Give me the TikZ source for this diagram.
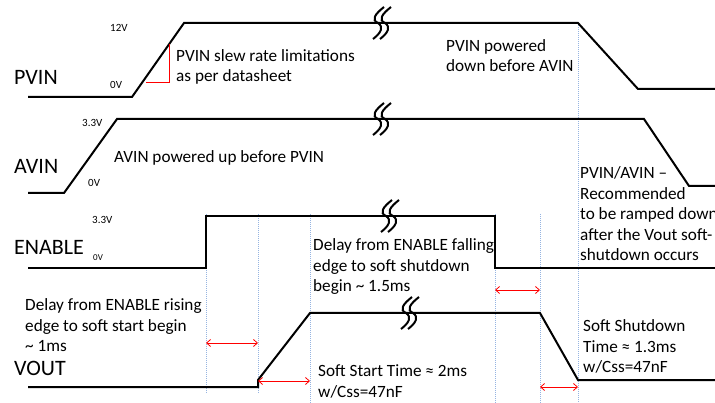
\documentclass[tikz,border=0pt]{standalone}
\usepackage{fontspec}
\setmainfont{Carlito}
\usetikzlibrary{arrows.meta}
\definecolor{markblue}{RGB}{150,180,225}
\tikzset{
  wave/.style={line width=2pt, line join=miter},
  marker/.style={markblue, line width=0.6pt, dash pattern=on 0.8pt off 1.2pt},
  delay/.style={red, line width=0.8pt, {Straight Barb[length=4pt,width=7pt]}-{Straight Barb[length=4pt,width=7pt]}},
  sig/.style={anchor=base west, inner sep=0pt, font=\fontsize{22}{26}\selectfont},
  lvl/.style={anchor=base west, inner sep=0pt, font=\fontsize{11}{13}\selectfont},
  note/.style={anchor=base west, inner sep=0pt, align=left, font=\fontsize{17.2}{20.5}\selectfont},
  brk/.pic={
    \foreach \dx in {0,7}
      \draw[line width=2pt] (\dx+6,-16) .. controls (\dx-3,-9) and (\dx-7,-3) .. (\dx,0) .. controls (\dx+6,4) and (\dx+3,10) .. (\dx-5,16);
  }
}
\begin{document}
\begin{tikzpicture}[x=1pt, y=-1pt]
\useasboundingbox (0,0) rectangle (715,403);
% signal names and levels
\node[sig] (pvin) at (14,85) {PVIN};
\node[sig] (avin) at (14,174) {AVIN};
\node[sig] (enable) at (14,255) {ENABLE};
\node[sig] (vout) at (14,375) {VOUT};
\node[lvl] (pvinhi) at (110,32) {12V};
\node[lvl] (pvinlo) at (110,89) {0V};
\node[lvl] (avinhi) at (82,127) {3.3V};
\node[lvl] (avinlo) at (88,187) {0V};
\node[lvl] (enhi) at (92,224) {3.3V};
\node[lvl, font=\fontsize{9}{11}\selectfont] (enlo) at (93,261) {0V};
% markers
\draw[marker] (206,214) -- (206,393);
\draw[marker] (258,214) -- (258,393);
\draw[marker] (310,214) -- (310,403);
\draw[marker] (495,214) -- (495,403);
\draw[marker] (540,214) -- (540,403);
\draw[marker] (578,23) -- (578,403);
% waveforms
\draw[wave] (28,97) -- (132,97) -- (184,23) -- (578,23) -- (638,89) -- (715,89);
\draw[wave] (28,193) -- (64,193) -- (117,119) -- (644,119) -- (689,186) -- (715,186);
\draw[wave] (28,268) -- (206,268) -- (206,216) -- (495,216) -- (495,268) -- (715,268);
\draw[wave] (28,387) -- (258,387) -- (258,380) -- (310,313) -- (540,313) -- (578,380) -- (715,380);
\pic at (378,23) {brk};
\pic at (378,119) {brk};
\pic at (386,216) {brk};
\pic at (406,313) {brk};
% slew rate
\draw[red, line width=0.8pt] (146,82) -- (169,82) -- (169,44);
% delays
\draw[delay] (206,343) -- (258,343);
\draw[delay] (258,381) -- (310,381);
\draw[delay] (495,290) -- (540,290);
\draw[delay] (540,387) -- (578,387);
% notes (placed by last line)
\node[note] (slew) at (176,82) {PVIN slew rate limitations\\as per datasheet};
\node[note] (avinup) at (114,163) {AVIN powered up before PVIN};
\node[note] (pvindown) at (446,72) {PVIN powered\\down before AVIN};
\node[note] (ramp) at (580,261) {PVIN/AVIN --\\Recommended\\to be ramped down\\after the Vout soft-\\shutdown occurs};
\node[note] (endelay) at (313,292) {Delay from ENABLE falling\\edge to soft shutdown\\begin \textasciitilde{} 1.5ms};
\node[note] (stdelay) at (25,352) {Delay from ENABLE rising\\edge to soft start begin\\\textasciitilde{} 1ms};
\node[note] (sstart) at (318,397) {Soft Start Time ≈ 2ms\\w/Css=47nF};
\node[note] (sshut) at (583,373) {Soft Shutdown\\Time ≈ 1.3ms\\w/Css=47nF};
\end{tikzpicture}
\end{document}
